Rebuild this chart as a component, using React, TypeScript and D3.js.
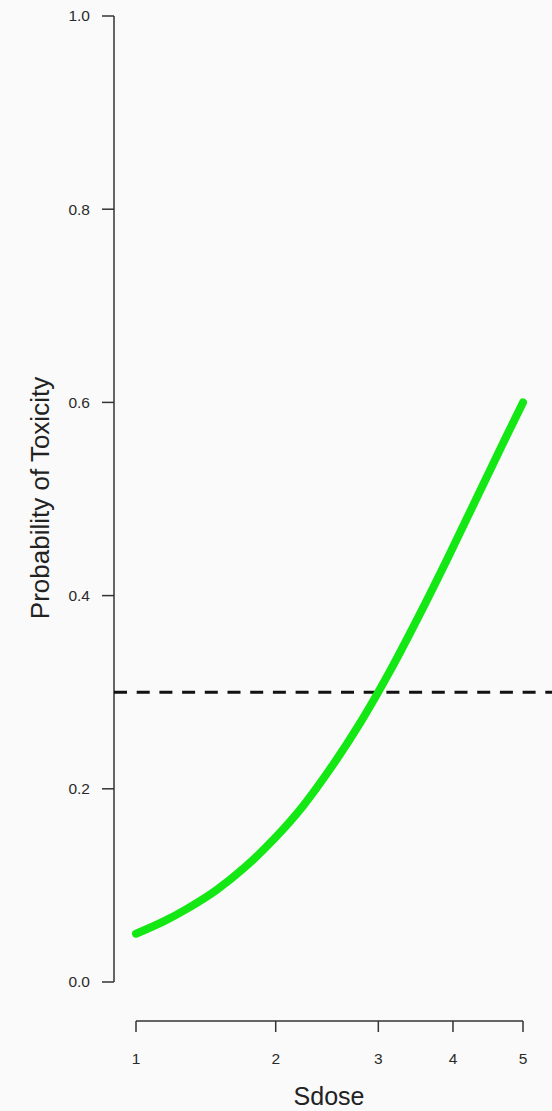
import React from "react";
import * as d3 from "d3";

// Dose levels and their standardized dose values (x positions)
const doseLabels = ["1", "2", "3", "4", "5"];
const doseSdose = [-5.944, -4.735, -3.847, -3.201, -2.595];

// Curve points: standardized dose and probability of toxicity
const curveSdose = [-5.944, -5.7, -5.5, -5.25, -5.0, -4.75, -4.5, -4.25, -4.0, -3.75, -3.5, -3.25, -3.0, -2.75, -2.595];
const curveProb = [0.05, 0.063, 0.076, 0.095, 0.119, 0.148, 0.182, 0.223, 0.269, 0.321, 0.378, 0.438, 0.5, 0.562, 0.6];

// Y-axis ticks
const yTicks = [0, 0.2, 0.4, 0.6, 0.8, 1.0];
const yTickLabels = ["0.0", "0.2", "0.4", "0.6", "0.8", "1.0"];

// Target toxicity level
const targetTox = 0.3;

export default function App() {
  const W = 552;
  const H = 1111;
  const x = d3.scaleLinear().domain([doseSdose[0], doseSdose[doseSdose.length - 1]]).range([136, 523]);
  const y = d3.scaleLinear().domain([0, 1]).range([982, 16]);
  const axisX = 114;
  const xAxisY = 1021;
  const font = "'Liberation Sans', Arial, sans-serif";

  const pts: [number, number][] = curveSdose.map((s, i) => [s, curveProb[i]]);
  const line = d3
    .line<[number, number]>()
    .x((d) => x(d[0]))
    .y((d) => y(d[1]))
    .curve(d3.curveMonotoneX);

  return (
    <svg
      width={W}
      height={H}
      style={{ position: "fixed", left: 0, top: 0, background: "#fafafa" }}
    >
      <rect x={0} y={0} width={W} height={H} fill="#fafafa" />
      {/* Y axis */}
      <line x1={axisX} x2={axisX} y1={y(1)} y2={y(0)} stroke="#333" strokeWidth={1.5} />
      {yTicks.map((t, i) => (
        <g key={i}>
          <line x1={axisX - 12} x2={axisX} y1={y(t)} y2={y(t)} stroke="#333" strokeWidth={1.5} />
          <text
            x={90}
            y={y(t)}
            dy="0.35em"
            textAnchor="end"
            fontFamily={font}
            fontSize={15.5}
            fill="#2a2a2a"
          >
            {yTickLabels[i]}
          </text>
        </g>
      ))}
      {/* X axis */}
      <line x1={x(doseSdose[0])} x2={x(doseSdose[4])} y1={xAxisY} y2={xAxisY} stroke="#333" strokeWidth={1.5} />
      {doseSdose.map((s, i) => (
        <g key={i}>
          <line x1={x(s)} x2={x(s)} y1={xAxisY} y2={xAxisY + 11} stroke="#333" strokeWidth={1.5} />
          <text
            x={x(s)}
            y={1064}
            textAnchor="middle"
            fontFamily={font}
            fontSize={15.5}
            fill="#2a2a2a"
          >
            {doseLabels[i]}
          </text>
        </g>
      ))}
      {/* Target line */}
      <line
        x1={axisX}
        x2={W}
        y1={y(targetTox)}
        y2={y(targetTox)}
        stroke="#111"
        strokeWidth={3}
        strokeDasharray="13 9.7"
      />
      {/* Curve */}
      <path d={line(pts) || ""} fill="none" stroke="#14e814" strokeWidth={8} strokeLinecap="round" />
      {/* Axis titles */}
      <text x={329} y={1105} textAnchor="middle" fontFamily={font} fontSize={25} fill="#222">
        Sdose
      </text>
      <text
        transform={`translate(49,498) rotate(-90)`}
        textAnchor="middle"
        fontFamily={font}
        fontSize={26}
        fill="#222"
      >
        Probability of Toxicity
      </text>
    </svg>
  );
}
